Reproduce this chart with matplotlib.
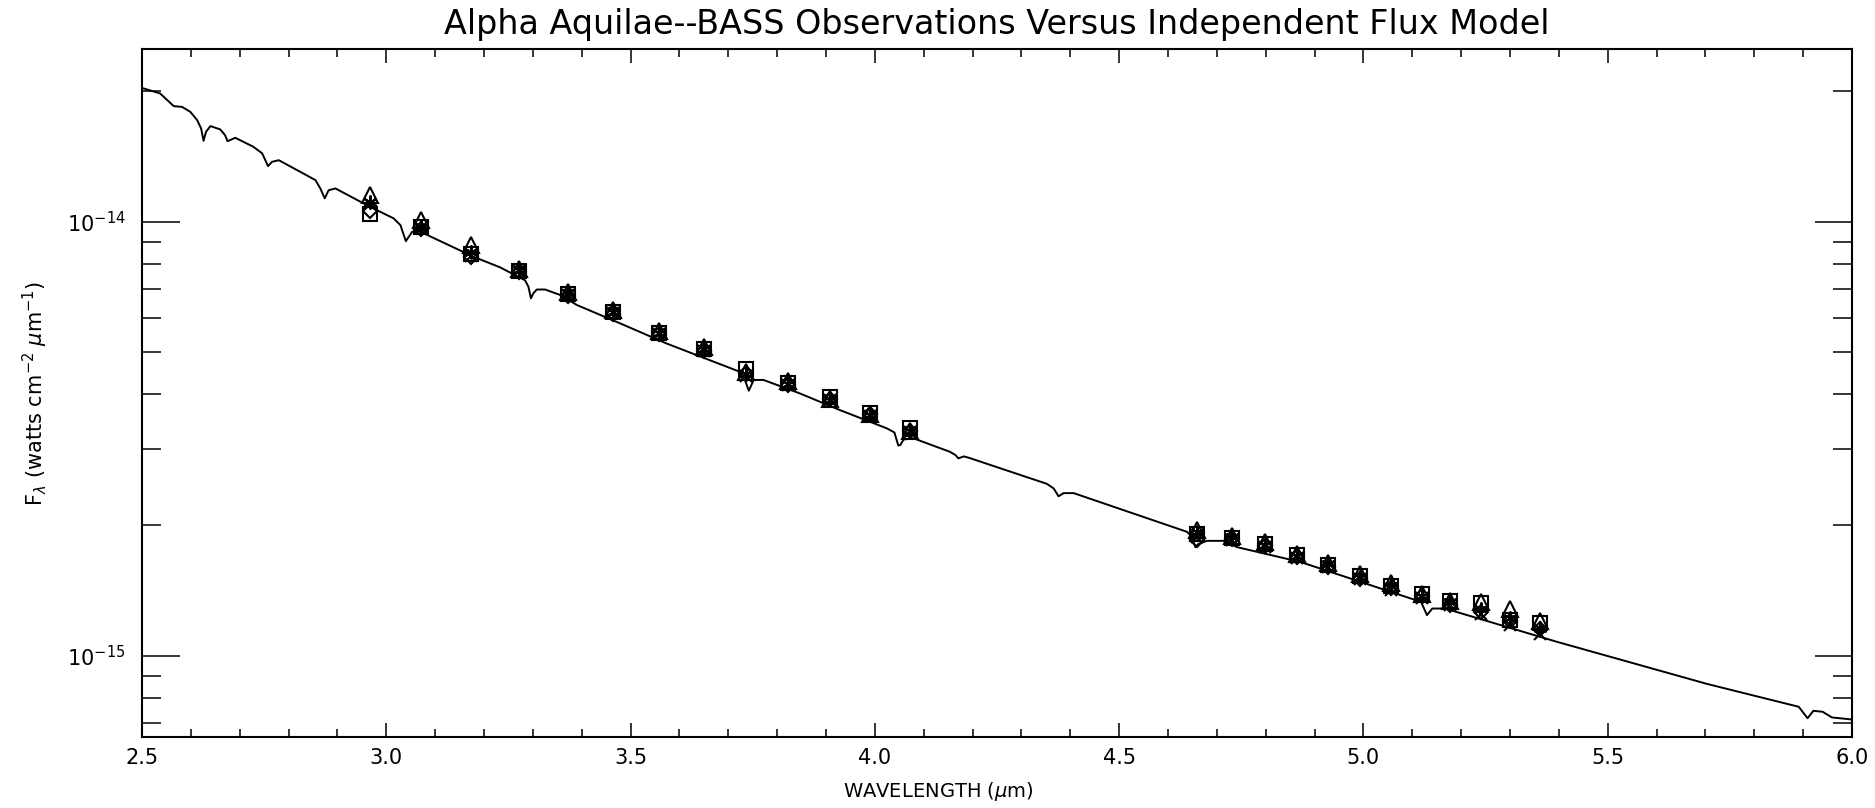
import numpy as np
import matplotlib
matplotlib.use("Agg")
import matplotlib.pyplot as plt
from matplotlib.ticker import MultipleLocator, FormatStrFormatter, FixedLocator, NullFormatter, LogFormatterSciNotation

# Model spectrum (wavelength in micron, flux in watts cm^-2 micron^-1)
model_wave = [2.502, 2.537, 2.565, 2.582, 2.599, 2.613, 2.621, 2.626, 2.631, 2.640,
              2.660, 2.670, 2.675, 2.691, 2.728, 2.746, 2.758, 2.766, 2.780, 2.824,
              2.855, 2.865, 2.874, 2.882, 2.896, 2.967, 3.015, 3.029, 3.040, 3.053,
              3.070, 3.179, 3.233, 3.284, 3.291, 3.296, 3.301, 3.308, 3.325, 3.356,
              3.390, 3.479, 3.574, 3.670, 3.724, 3.734, 3.742, 3.752, 3.772, 3.847,
              3.929, 4.025, 4.040, 4.048, 4.052, 4.059, 4.079, 4.154, 4.165, 4.171,
              4.182, 4.192, 4.352, 4.366, 4.376, 4.386, 4.407, 4.639, 4.649, 4.656,
              4.662, 4.680, 4.714, 4.741, 4.836, 4.871, 5.118, 5.130, 5.141, 5.167,
              5.396, 5.704, 5.891, 5.909, 5.921, 5.940, 5.959, 5.996]
model_flux = [2.03e-14, 1.975e-14, 1.846e-14, 1.839e-14, 1.791e-14, 1.714e-14, 1.640e-14, 1.536e-14, 1.611e-14, 1.661e-14,
              1.632e-14, 1.583e-14, 1.533e-14, 1.561e-14, 1.488e-14, 1.437e-14, 1.343e-14, 1.374e-14, 1.386e-14, 1.303e-14,
              1.247e-14, 1.193e-14, 1.132e-14, 1.182e-14, 1.193e-14, 1.082e-14, 1.018e-14, 9.82e-15, 9.02e-15, 9.48e-15,
              9.48e-15, 8.30e-15, 7.85e-15, 7.33e-15, 7.08e-15, 6.66e-15, 6.84e-15, 6.98e-15, 6.98e-15, 6.78e-15,
              6.43e-15, 5.83e-15, 5.24e-15, 4.76e-15, 4.51e-15, 4.32e-15, 4.08e-15, 4.32e-15, 4.32e-15, 4.02e-15,
              3.68e-15, 3.34e-15, 3.27e-15, 3.05e-15, 3.06e-15, 3.15e-15, 3.17e-15, 2.95e-15, 2.90e-15, 2.85e-15,
              2.88e-15, 2.86e-15, 2.49e-15, 2.43e-15, 2.33e-15, 2.37e-15, 2.37e-15, 1.93e-15, 1.88e-15, 1.78e-15,
              1.81e-15, 1.84e-15, 1.84e-15, 1.78e-15, 1.68e-15, 1.645e-15, 1.331e-15, 1.241e-15, 1.285e-15, 1.285e-15,
              1.077e-15, 8.61e-16, 7.63e-16, 7.18e-16, 7.47e-16, 7.43e-16, 7.21e-16, 7.14e-16]

# BASS channel wavelengths
obs_wave = [2.966, 3.072, 3.174, 3.272, 3.372, 3.465, 3.559, 3.651, 3.737, 3.823,
            3.909, 3.991, 4.071, 4.659, 4.731, 4.798, 4.864, 4.927, 4.994, 5.057,
            5.120, 5.178, 5.241, 5.300, 5.362]

# Individual observation sets (one per plotting symbol)
obs_square = [1.04e-14, 9.70e-15, 8.41e-15, 7.71e-15, 6.80e-15, 6.18e-15, 5.53e-15, 5.08e-15, 4.57e-15, 4.25e-15,
              3.94e-15, 3.62e-15, 3.34e-15, 1.91e-15, 1.87e-15, 1.81e-15, 1.71e-15, 1.62e-15, 1.53e-15, 1.45e-15,
              1.39e-15, 1.34e-15, 1.32e-15, 1.21e-15, 1.19e-15]
obs_triangle = [1.15e-14, 1.01e-14, 8.83e-15, 7.80e-15, 6.90e-15, 6.25e-15, 5.60e-15, 5.15e-15, 4.50e-15, 4.30e-15,
                3.90e-15, 3.60e-15, 3.30e-15, 1.95e-15, 1.89e-15, 1.83e-15, 1.72e-15, 1.64e-15, 1.54e-15, 1.47e-15,
                1.39e-15, 1.34e-15, 1.33e-15, 1.28e-15, 1.20e-15]
obs_asterisk = [1.11e-14, 9.70e-15, 8.50e-15, 7.75e-15, 6.85e-15, 6.20e-15, 5.55e-15, 5.10e-15, 4.45e-15, 4.22e-15,
                3.88e-15, 3.58e-15, 3.30e-15, 1.93e-15, 1.88e-15, 1.80e-15, 1.70e-15, 1.63e-15, 1.52e-15, 1.45e-15,
                1.37e-15, 1.33e-15, 1.28e-15, 1.22e-15, 1.16e-15]
obs_diamond = [1.06e-14, 9.60e-15, 8.30e-15, 7.65e-15, 6.75e-15, 6.12e-15, 5.50e-15, 5.05e-15, 4.48e-15, 4.20e-15,
               3.90e-15, 3.60e-15, 3.30e-15, 1.85e-15, 1.86e-15, 1.79e-15, 1.69e-15, 1.60e-15, 1.50e-15, 1.43e-15,
               1.37e-15, 1.31e-15, 1.26e-15, 1.20e-15, 1.15e-15]
obs_cross = [1.10e-14, 9.65e-15, 8.35e-15, 7.70e-15, 6.78e-15, 6.15e-15, 5.50e-15, 5.05e-15, 4.42e-15, 4.20e-15,
             3.88e-15, 3.57e-15, 3.28e-15, 1.88e-15, 1.85e-15, 1.78e-15, 1.68e-15, 1.60e-15, 1.50e-15, 1.42e-15,
             1.36e-15, 1.31e-15, 1.25e-15, 1.18e-15, 1.12e-15]

# y ticks
y_major = [1e-15, 1e-14]
y_minor = [7e-16, 8e-16, 9e-16, 2e-15, 3e-15, 4e-15, 5e-15, 6e-15, 7e-15, 8e-15, 9e-15, 2e-14]

W, H = 1875, 808
fig = plt.figure(figsize=(W / 100, H / 100), dpi=100)
# axes box in pixels: left 142, right 1852, top 49, bottom 737
ax = fig.add_axes([142 / W, 1 - 737 / H, (1852 - 142) / W, (737 - 49) / H])

ax.plot(model_wave, model_flux, color='black', lw=1.4)

sym = dict(linestyle='none', color='black', mfc='none', mew=1.5)
ax.plot(obs_wave, obs_square, marker='s', ms=10, **sym)
ax.plot(obs_wave, obs_triangle, marker='^', ms=11, **sym)
ax.plot(obs_wave, obs_asterisk, marker=(6, 2, 0), ms=10, **sym)
ax.plot(obs_wave, obs_diamond, marker='D', ms=7, **sym)
ax.plot(obs_wave, obs_cross, marker='x', ms=8, **sym)

ax.set_yscale('log')
ax.set_xlim(2.5, 6.0)
ax.set_ylim(6.5e-16, 2.5e-14)

ax.xaxis.set_major_locator(MultipleLocator(0.5))
ax.xaxis.set_minor_locator(MultipleLocator(0.1))
ax.xaxis.set_major_formatter(FormatStrFormatter('%.1f'))
ax.yaxis.set_major_locator(FixedLocator(y_major))
ax.yaxis.set_major_formatter(LogFormatterSciNotation())
ax.yaxis.set_minor_locator(FixedLocator(y_minor))
ax.yaxis.set_minor_formatter(NullFormatter())

ax.tick_params(which='both', direction='in', top=True, right=True, width=1.1, colors='black')
ax.tick_params(axis='x', which='major', length=10, pad=8, labelsize=15)
ax.tick_params(axis='x', which='minor', length=6)
ax.tick_params(axis='y', which='major', length=27, pad=12, labelsize=15)
ax.tick_params(axis='y', which='minor', length=14)
for s in ax.spines.values():
    s.set_linewidth(1.5)

ax.text(0.5, 1.036, 'Alpha Aquilae--BASS Observations Versus Independent Flux Model',
        transform=ax.transAxes, ha='center', va='center', fontsize=24)
ax.set_xlabel(r'WAVELENGTH ($\mu$m)', fontsize=14)
ax.xaxis.set_label_coords(0.466, -0.062)
ax.set_ylabel(r'F$_\lambda$ (watts cm$^{-2}$ $\mu$m$^{-1}$)', fontsize=15)
ax.yaxis.set_label_coords(-0.054, 0.5)

fig.savefig('out.png', dpi=100, facecolor='white')
